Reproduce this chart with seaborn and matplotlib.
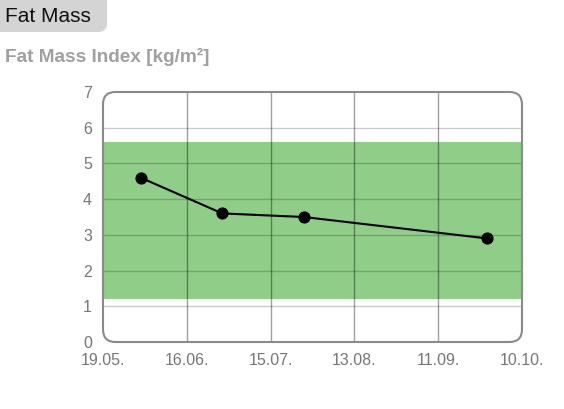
import matplotlib.pyplot as plt
import pandas as pd
import seaborn as sns
from matplotlib.patches import FancyBboxPatch

sns.set_theme(style='white')
plt.rcParams['font.family'] = ['Liberation Sans', 'DejaVu Sans']

# data
measure_dates = ['2021-06-01', '2021-06-29', '2021-07-27', '2021-09-28']
fmi_values = [4.6, 3.6, 3.5, 2.9]
range_start, range_end = '2021-05-19', '2021-10-10'
tick_labels = ['19.05.', '16.06.', '15.07.', '13.08.', '11.09.', '10.10.']
normal_range = (1.2, 5.6)

df = pd.DataFrame({'date': pd.to_datetime(measure_dates), 'fmi': fmi_values})
# ticks are evenly spread in time between the first and last date
ticks = pd.date_range(range_start, range_end, periods=len(tick_labels))

fig = plt.figure(figsize=(5.64, 4.09), dpi=100)
ax = fig.add_axes([103 / 564, 1 - 342 / 409, 419 / 564, 250 / 409])

ax.axhspan(*normal_range, color='#8fcd88', zorder=0, lw=0)
for y in range(1, 7):
    ax.axhline(y, color=(0, 0, 0, 0.2), lw=1, zorder=1)
for t in ticks[1:-1]:
    ax.axvline(t, color=(0, 0, 0, 0.38), lw=1, zorder=1)

sns.lineplot(data=df, x='date', y='fmi', color='black', lw=1.5, marker='o',
             markersize=8, markeredgecolor='black', ax=ax, zorder=3)

ax.set_xlim(ticks[0], ticks[-1])
ax.set_ylim(0, 7)
ax.set_xticks(ticks)
ax.set_xticklabels(tick_labels)
ax.set_yticks(range(0, 8))
ax.tick_params(colors='#777777', labelsize=11.5, length=0)
ax.tick_params(axis='x', pad=8)
ax.tick_params(axis='y', pad=8)
ax.set_xlabel('')
ax.set_ylabel('')
for s in ax.spines.values():
    s.set_visible(False)

frame = FancyBboxPatch((0, 0), 1, 1, boxstyle='round,pad=0,rounding_size=0.03',
                       mutation_aspect=419 / 250, transform=ax.transAxes,
                       fill=False, ec='#8a8a8a', lw=1.5, zorder=4, clip_on=False)
ax.add_patch(frame)

tab = FancyBboxPatch((-20 / 564, 1 - 32 / 409), 127 / 564, 60 / 409,
                     boxstyle='round,pad=0,rounding_size=0.015',
                     mutation_aspect=564 / 409, transform=fig.transFigure,
                     fc='#d4d4d4', ec='none')
fig.patches.append(tab)
fig.text(5 / 564, 1 - 16 / 409, 'Fat Mass', fontsize=15, color='#111111', va='center')
fig.text(5 / 564, 1 - 57 / 409, 'Fat Mass Index [kg/m²]', fontsize=13.7,
         fontweight='bold', color='#a0a0a0', va='center')

fig.savefig('out.png', dpi=100)
